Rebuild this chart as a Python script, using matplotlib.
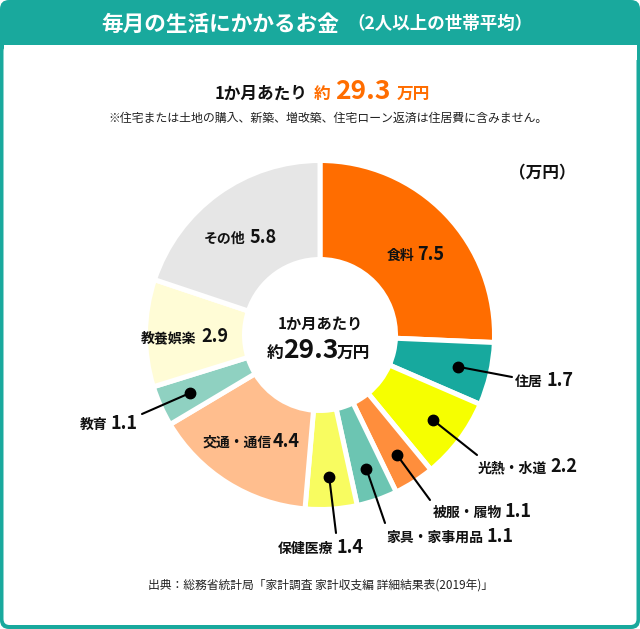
import numpy as np
import matplotlib
matplotlib.use('Agg')
import matplotlib.pyplot as plt
from matplotlib.patches import FancyBboxPatch, Rectangle

plt.rcParams['font.family'] = ['Noto Sans CJK JP', 'DejaVu Sans']

# ---------------- data ----------------
categories = ['食料', '住居', '光熱・水道', '被服・履物', '家具・家事用品',
              '保健医療', '交通・通信', '教育', '教養娯楽', 'その他']
values = [7.5, 1.7, 2.2, 1.1, 1.1, 1.4, 4.4, 1.1, 2.9, 5.8]
colors = ['#FF6D00', '#17A99E', '#F6FF00', '#FF8E3C', '#6CC5B2',
          '#F8FC60', '#FFBE8E', '#8FD1C1', '#FFFCD6', '#E6E6E6']
total_text = '29.3'

title_main = '毎月の生活にかかるお金'
title_sub = '（2人以上の世帯平均）'
note_text = '※住宅または土地の購入、新築、増改築、住宅ローン返済は住居費に含みません。'
unit_text = '（万円）'
source_text = '出典：総務省統計局「家計調査 家計収支編 詳細結果表(2019年)」'

TEAL = '#19A99D'
ORANGE = '#FF6D00'

# ---------------- layout (pixels from top-left) ----------------
W, H = 640, 629
fig = plt.figure(figsize=(W / 100, H / 100), dpi=100)
ax = fig.add_axes([0, 0, 1, 1])


def Y(y):
    return H - y


# frame
ax.add_patch(FancyBboxPatch((0, 0), W, H, boxstyle='round,pad=0,rounding_size=9',
                            fc=TEAL, ec='none', zorder=0))
ax.add_patch(FancyBboxPatch((3.5, Y(625)), W - 7, 625 - 45,
                            boxstyle='round,pad=0,rounding_size=6',
                            fc='white', ec='none', zorder=0.5))
ax.add_patch(Rectangle((3.5, Y(60)), W - 7, 15, fc='white', ec='none', zorder=0.6))

# title
ax.text(101, Y(24), title_main, color='white', fontsize=15.6, fontweight='bold',
        ha='left', va='center', zorder=3)
ax.text(347, Y(24), title_sub, color='white', fontsize=12.6, fontweight='bold',
        ha='left', va='center', zorder=3)

# subtitle
base = Y(99)
ax.text(307, base, '1か月あたり', fontsize=12, fontweight='bold', color='#111111',
        ha='right', va='baseline')
ax.text(314, base, '約', fontsize=12, fontweight='bold', color=ORANGE,
        ha='left', va='baseline')
ax.text(335, base, total_text, fontsize=19, fontweight='bold', color=ORANGE,
        ha='left', va='baseline')
ax.text(397, base, '万円', fontsize=12, fontweight='bold', color=ORANGE,
        ha='left', va='baseline')
ax.text(108, Y(118), note_text, fontsize=8.6, color='#222222', ha='left', va='center')
ax.text(542, Y(173), unit_text, fontsize=12, fontweight='bold', color='#111111',
        ha='center', va='center')

# donut
cx, cy = 320, Y(335)
wedges, _ = ax.pie(values, colors=colors, startangle=90, counterclock=False,
                   radius=174.5, center=(cx, cy), frame=True,
                   wedgeprops=dict(width=99, edgecolor='white', linewidth=3.6))

# center text
ax.text(320, Y(329), '1か月あたり', fontsize=11, fontweight='bold', color='#111111',
        ha='center', va='baseline')
cb = Y(358)
ax.text(283, cb, '約', fontsize=12, fontweight='bold', color='#111111', ha='right', va='baseline')
ax.text(283, cb, total_text, fontsize=19, fontweight='bold', color='#111111', ha='left', va='baseline')
ax.text(337, cb, '万円', fontsize=12, fontweight='bold', color='#111111', ha='left', va='baseline')

# labels: name right edge x, number left edge x, baseline y
inner_labels = {
    '食料': (414, 417, 260),
    'その他': (245, 250, 243),
    '教養娯楽': (196, 201, 342),
    '交通・通信': (272, 273, 447),
}
outer_labels = {
    '住居': (543, 546, 386, (512, 377)),
    '光熱・水道': (547, 550, 472, (477, 455)),
    '被服・履物': (502, 504, 517, (430, 500)),
    '家具・家事用品': (483, 487, 542, (385, 523)),
    '保健医療': (333, 336, 553, (336, 533)),
    '教育': (108, 110, 429, (142, 414)),
}


def draw_label(name, val, xr, xl, yb):
    ax.text(xr, Y(yb), name, fontsize=10, fontweight='bold', color='#111111',
            ha='right', va='baseline', zorder=5)
    ax.text(xl, Y(yb), f'{val}', fontsize=13, fontweight='bold', color='#111111',
            ha='left', va='baseline', zorder=5)


dot_r = 142
for w, name, val in zip(wedges, categories, values):
    if name in inner_labels:
        xr, xl, yb = inner_labels[name]
        draw_label(name, val, xr, xl, yb)
    elif name in outer_labels:
        xr, xl, yb, (ex, ey) = outer_labels[name]
        mid = np.deg2rad((w.theta1 + w.theta2) / 2)
        dx, dy = cx + dot_r * np.cos(mid), cy + dot_r * np.sin(mid)
        ax.plot([dx, ex], [dy, Y(ey)], color='black', lw=1.5, zorder=4,
                solid_capstyle='round')
        ax.plot([dx], [dy], 'o', color='black', ms=7.5, zorder=4)
        draw_label(name, val, xr, xl, yb)

# source
ax.text(321, Y(585), source_text, fontsize=8.5, color='#222222', ha='center', va='center')

ax.set_xlim(0, W)
ax.set_ylim(0, H)
ax.set_aspect('auto')
ax.axis('off')

fig.savefig('out.png', dpi=100)
